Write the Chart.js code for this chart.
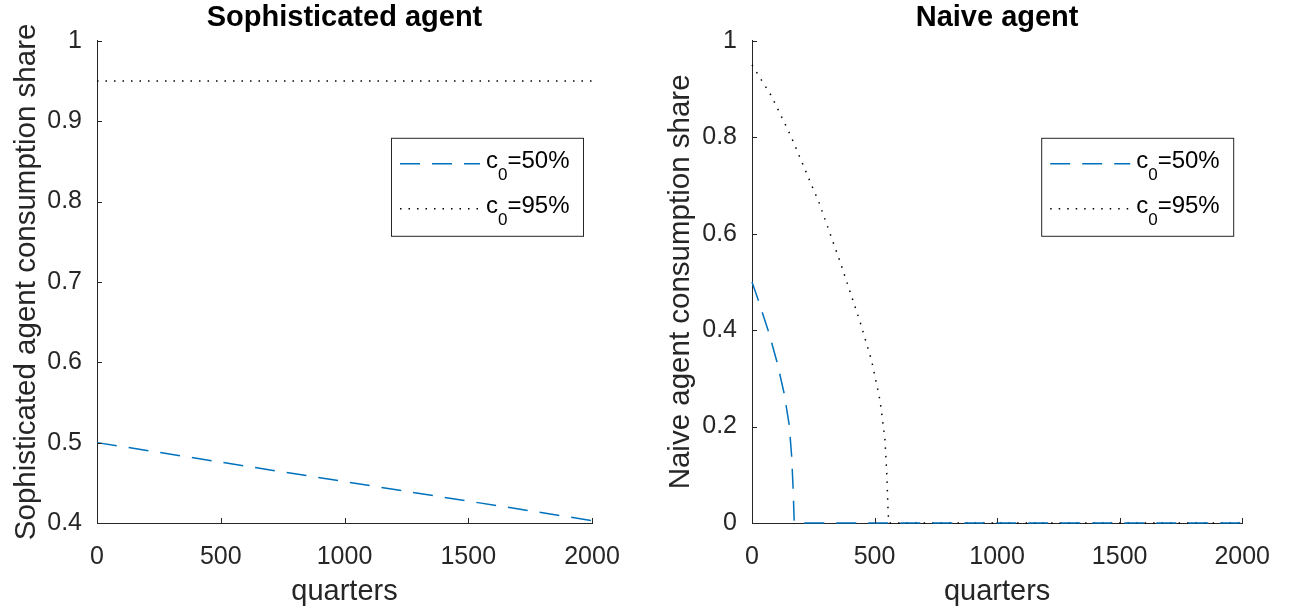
<!DOCTYPE html>
<html>
<head>
<meta charset="utf-8">
<script src="https://cdn.jsdelivr.net/npm/chart.js@4/dist/chart.umd.min.js"></script>
<style>
  body { margin: 0; background: #fff; }
  #wrap { position: relative; width: 1289px; height: 616px; }
  canvas { position: absolute; top: 0; }
</style>
</head>
<body>
<div id="wrap">
  <canvas id="sophChart" width="645" height="616" style="left:0"></canvas>
  <canvas id="naiveChart" width="644" height="616" style="left:645px"></canvas>
</div>
<script>
// --- data ---
const xTicks = [0, 500, 1000, 1500, 2000];

// sophisticated agent: both series are straight lines
const sophQuarters = [0, 2000];
const soph50 = [0.5, 0.403];
const soph95 = [0.95, 0.95];
const sophYTicks = [0.4, 0.5, 0.6, 0.7, 0.8, 0.9, 1];

// naive agent: share falls to zero
const naive50Quarters = [0, 27, 68, 102, 131, 152, 162, 168, 172, 174, 2000];
const naive50 = [0.5, 0.46, 0.396, 0.334, 0.269, 0.203, 0.137, 0.068, 0.006, 0, 0];
const naive95Quarters = [0, 80, 158, 273, 360, 441, 488, 522, 542, 550, 555, 558, 2000];
const naive95 = [0.95, 0.885, 0.803, 0.665, 0.541, 0.417, 0.337, 0.255, 0.176, 0.103, 0.027, 0, 0];
const naiveYTicks = [0, 0.2, 0.4, 0.6, 0.8, 1];

const legendLabels = ['50%', '95%'];

const AXIS = '#262626';
const BLUE = '#0072BD';
const FONT = 'Liberation Sans, Arial, Helvetica, sans-serif';

function pts(xs, ys) {
    return xs.map((x, i) => ({ x: x, y: ys[i] }));
}

// inward tick marks like matlab
const innerTicks = {
    id: 'innerTicks',
    afterDatasetsDraw(chart) {
        const ctx = chart.ctx;
        const xs = chart.scales.x, ys = chart.scales.y;
        const area = chart.chartArea;
        ctx.save();
        ctx.strokeStyle = AXIS;
        ctx.lineWidth = 1;
        ctx.beginPath();
        xs.ticks.forEach(t => {
            const px = Math.round(xs.getPixelForValue(t.value)) + 0.5;
            ctx.moveTo(px, area.bottom);
            ctx.lineTo(px, area.bottom - 5);
        });
        ys.ticks.forEach(t => {
            const py = Math.round(ys.getPixelForValue(t.value)) + 0.5;
            ctx.moveTo(area.left, py);
            ctx.lineTo(area.left + 5, py);
        });
        ctx.stroke();
        ctx.restore();
    }
};

// boxed legend inside the plot with subscript labels
const boxLegend = {
    id: 'boxLegend',
    afterDraw(chart) {
        const ctx = chart.ctx;
        const area = chart.chartArea;
        const bx = area.right - 201, by = area.top + 97, bw = 192, bh = 98;
        ctx.save();
        ctx.fillStyle = '#fff';
        ctx.fillRect(bx, by, bw, bh);
        ctx.strokeStyle = AXIS;
        ctx.lineWidth = 1;
        ctx.strokeRect(bx + 0.5, by + 0.5, bw, bh);
        chart.data.datasets.forEach((ds, i) => {
            const ly = by + 26 + i * 45;
            ctx.strokeStyle = ds.borderColor;
            ctx.lineWidth = ds.borderWidth;
            ctx.setLineDash(ds.borderDash);
            ctx.beginPath();
            ctx.moveTo(bx + 9, ly);
            ctx.lineTo(bx + 89, ly);
            ctx.stroke();
            ctx.setLineDash([]);
            ctx.fillStyle = '#000';
            ctx.textBaseline = 'alphabetic';
            let tx = bx + 95;
            ctx.font = '24px ' + FONT;
            ctx.fillText('c', tx, ly + 4);
            tx += ctx.measureText('c').width;
            ctx.font = '17px ' + FONT;
            ctx.fillText('0', tx, ly + 16);
            tx += ctx.measureText('0').width;
            ctx.font = '24px ' + FONT;
            ctx.fillText('=' + legendLabels[i], tx, ly + 4);
        });
        ctx.restore();
    }
};

function makeChart(id, title, yTitle, yTicks, yWidth, yTitlePad, padRight, sets) {
    return new Chart(document.getElementById(id).getContext('2d'), {
        type: 'scatter',
        data: { datasets: sets },
        options: {
            responsive: false,
            animation: false,
            layout: { padding: { left: 0, right: padRight, top: 0, bottom: 0 } },
            plugins: {
                legend: { display: false },
                tooltip: { enabled: false },
                title: {
                    display: true,
                    text: title,
                    fullSize: false,
                    color: '#000',
                    font: { size: 29, weight: 'bold', family: FONT },
                    padding: { top: 1, bottom: 5 }
                }
            },
            scales: {
                x: {
                    type: 'linear',
                    min: 0,
                    max: 2000,
                    afterBuildTicks: s => { s.ticks = xTicks.map(v => ({ value: v })); },
                    afterFit: s => { s.height = 93; },
                    ticks: {
                        color: AXIS, padding: 19, maxRotation: 0, font: { size: 25, family: FONT },
                        callback: v => String(v)
                    },
                    grid: { display: false, drawTicks: false },
                    border: { display: true, color: AXIS, width: 1 },
                    title: {
                        display: true, text: 'quarters', color: AXIS,
                        font: { size: 29, family: FONT },
                        padding: { top: 0, bottom: 6.5 }
                    }
                },
                y: {
                    type: 'linear',
                    min: yTicks[0],
                    max: yTicks[yTicks.length - 1],
                    afterBuildTicks: s => { s.ticks = yTicks.map(v => ({ value: v })); },
                    afterFit: s => { s.width = yWidth; },
                    ticks: {
                        color: AXIS, padding: 15, font: { size: 25, family: FONT },
                        callback: v => String(Math.round(v * 10) / 10)
                    },
                    grid: { display: false, drawTicks: false },
                    border: { display: true, color: AXIS, width: 1 },
                    title: {
                        display: true, text: yTitle, color: AXIS,
                        font: { size: 29.5, family: FONT },
                        padding: { top: yTitlePad, bottom: 0 }
                    }
                }
            }
        },
        plugins: [innerTicks, boxLegend]
    });
}

function series(xs50, ys50, xs95, ys95) {
    return [
        {
            label: 'c0=50%', data: pts(xs50, ys50), showLine: true,
            borderColor: BLUE, borderWidth: 1.5, borderDash: [20, 12],
            pointRadius: 0, tension: 0, clip: 4
        },
        {
            label: 'c0=95%', data: pts(xs95, ys95), showLine: true,
            borderColor: '#000', borderWidth: 1.5, borderDash: [1.5, 7],
            pointRadius: 0, tension: 0, clip: 4
        }
    ];
}

makeChart('sophChart', 'Sophisticated agent', 'Sophisticated agent consumption share',
    sophYTicks, 97, 9.5, 53, series(sophQuarters, soph50, sophQuarters, soph95));

makeChart('naiveChart', 'Naive agent', 'Naive agent consumption share',
    naiveYTicks, 107, 18.5, 42, series(naive50Quarters, naive50, naive95Quarters, naive95));
</script>
</body>
</html>
